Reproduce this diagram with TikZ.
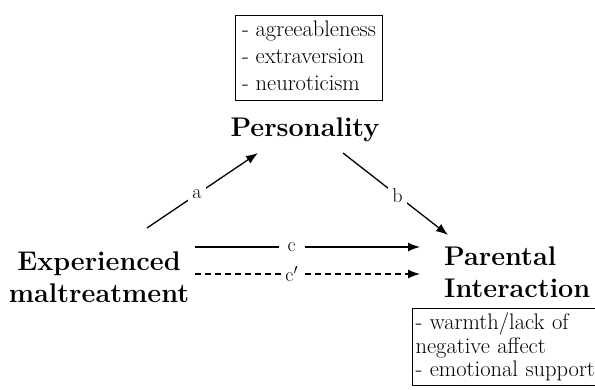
\documentclass[tikz,border=0pt]{standalone}
\usepackage{amsmath}
\usepackage{tikz}
\usetikzlibrary{positioning, arrows.meta}

\begin{document}
\begin{tikzpicture}[x=1pt, y=-1pt,
		varname/.style={font=\fontsize{27}{32.5}\bfseries\selectfont, inner sep=0pt},
		facetbox/.style={draw, line width=1.1pt, align=left, font=\fontsize{22.5}{27}\selectfont},
		effect/.style={line width=1.3pt, -{Latex[length=12pt,width=9pt]}},
		effectlabel/.style={fill=white, inner sep=4pt, font=\fontsize{20}{20}\selectfont}]
		
		\useasboundingbox (0,0) rectangle (595,390);
		
		% facetten
		\node[facetbox, anchor=north west, inner xsep=6.5pt, inner ysep=5pt, text depth=5pt] (traits) at (235,15) {- agreeableness\\- extraversion\\- neuroticism};
		\node[facetbox, anchor=north west, inner xsep=3pt, inner ysep=4.5pt, font=\fontsize{22.5}{23.5}\selectfont, text width=190pt] (parfacets) at (412,308) {- warmth/lack of\\negative affect\\- emotional support};
		
		% variabelen
		\node[varname] (pers) at (305,130) {Personality};
		\node[varname, align=center] (maltr) at (99,277) {Experienced\\maltreatment};
		\node[varname, align=left, anchor=west] (parint) at (444,272) {Parental\\Interaction};
		
		% uiteinden van de pijlen
		\coordinate (a0) at (147,228);
		\coordinate (a1) at (258,153);
		\coordinate (b0) at (343,153);
		\coordinate (b1) at (448,235);
		\coordinate (c0) at (195,247);
		\coordinate (c1) at (420,247);
		\coordinate (d0) at (195,274);
		\coordinate (d1) at (420,274);
		
		% paden a, b
		\draw[effect] (a0) -- node[effectlabel, pos=0.45] {a} (a1);
		\draw[effect] (b0) -- node[effectlabel, pos=0.52] {b} (b1);
		
		% paden c, c'
		\draw[effect] (c0) -- node[effectlabel, pos=0.43, inner xsep=9pt] {c} (c1);
		\draw[effect, dash pattern=on 6pt off 4pt] (d0) -- node[effectlabel, pos=0.43, inner xsep=3pt] {c$'$} (d1);
		\end{tikzpicture}
\end{document}
